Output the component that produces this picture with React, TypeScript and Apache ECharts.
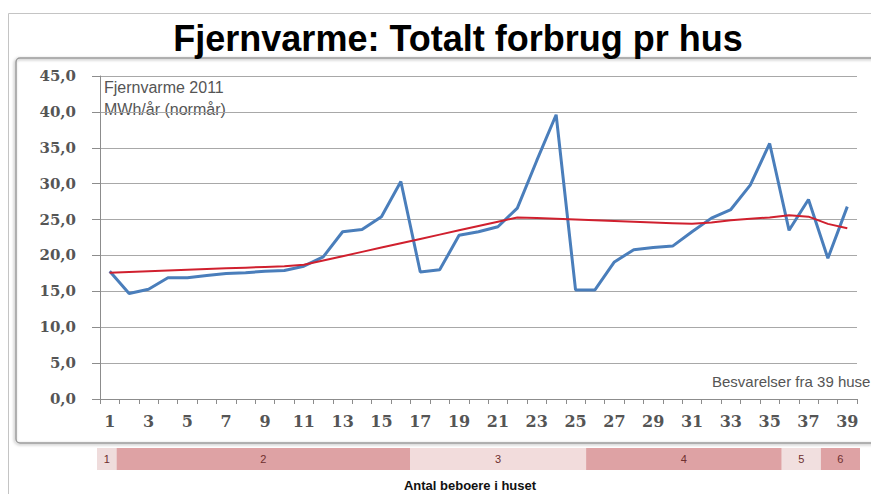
import React, { useEffect, useRef } from "react";
import * as echarts from "echarts";

const houses = ["1","2","3","4","5","6","7","8","9","10","11","12","13","14","15","16","17","18","19","20","21","22","23","24","25","26","27","28","29","30","31","32","33","34","35","36","37","38","39"];

const consumption = [17.8,14.7,15.3,16.9,16.9,17.2,17.5,17.6,17.8,17.9,18.5,19.8,23.3,23.6,25.4,30.3,17.7,18.0,22.8,23.3,24.0,26.6,33.2,39.6,15.2,15.2,19.1,20.8,21.1,21.3,23.3,25.2,26.4,29.8,35.6,23.5,27.8,19.6,26.8];

const trend = [17.6,17.7,17.8,17.9,18.0,18.1,18.2,18.3,18.4,18.5,18.7,19.3,19.9,20.5,21.1,21.7,22.3,22.9,23.5,24.1,24.7,25.3,25.2,25.1,25.0,24.9,24.8,24.7,24.6,24.5,24.4,24.6,24.9,25.1,25.3,25.6,25.4,24.4,23.8];

const groupLabels = ["1","2","3","4","5","6"];
const groupSizes = [1,15,9,10,2,2];
const groupColors = ["#efdcdc","#dea2a4","#f2dcdc","#dea2a4","#f1dfdf","#dea2a4"];

const titleText = "Fjernvarme: Totalt forbrug pr hus";
const noteLines = ["Fjernvarme 2011", "MWh/år (normår)"];
const sourceText = "Besvarelser fra 39 huse";
const groupAxisTitle = "Antal beboere i huset";

export default function App() {
  const ref = useRef<HTMLDivElement>(null);
  useEffect(() => {
    if (!ref.current) return;
    const chart = echarts.init(ref.current, null, { renderer: "svg" });
    const axisGray = "#8c8c8c";
    const labelFont = { fontFamily: "DejaVu Serif", fontSize: 15, fontWeight: "bold" as const, color: "#555" };
    chart.setOption({
      animation: false,
      backgroundColor: "#fff",
      grid: [
        { left: 100, right: 14, top: 76, bottom: 95 },
        { left: 97, right: 11, top: 448, height: 22 },
      ],
      xAxis: [
        {
          type: "category",
          gridIndex: 0,
          data: houses,
          boundaryGap: true,
          axisLine: { lineStyle: { color: axisGray } },
          axisTick: { show: true, interval: 0, length: 5, lineStyle: { color: axisGray } },
          axisLabel: { interval: 1, margin: 14, ...labelFont, fontSize: 16 },
        },
        { type: "value", gridIndex: 1, min: 0, max: 39, show: false },
      ],
      yAxis: [
        {
          type: "value",
          gridIndex: 0,
          min: 0,
          max: 45,
          interval: 5,
          axisLine: { show: true, lineStyle: { color: axisGray } },
          axisTick: { show: true, length: 8, lineStyle: { color: axisGray } },
          splitLine: { lineStyle: { color: "#a8a8a8" } },
          axisLabel: { margin: 24, formatter: (v: number) => v.toFixed(1).replace(".", ","), ...labelFont },
        },
        { type: "category", gridIndex: 1, data: ["g"], show: false },
      ],
      series: [
        {
          type: "line",
          name: "Forbrug",
          data: consumption,
          showSymbol: false,
          symbol: "none",
          lineStyle: { color: "#4a7ebb", width: 3 },
          z: 3,
        },
        {
          type: "line",
          name: "Trend",
          data: trend,
          showSymbol: false,
          symbol: "none",
          lineStyle: { color: "#d0202e", width: 2 },
          z: 4,
        },
        ...groupSizes.map((n, i) => ({
          type: "bar",
          xAxisIndex: 1,
          yAxisIndex: 1,
          stack: "groups",
          data: [n],
          barWidth: "100%",
          itemStyle: { color: groupColors[i] },
          label: { show: true, position: "inside", formatter: groupLabels[i], color: "#6e2f2f", fontSize: 11, fontFamily: "Liberation Sans" },
        })),
      ],
      graphic: [
        {
          type: "rect",
          shape: { x: 8.5, y: 13.5, width: 900, height: 520 },
          style: { fill: "none", stroke: "#c4c4c4", lineWidth: 1 },
          silent: true,
        },
        {
          type: "rect",
          shape: { x: 16, y: 58, width: 900, height: 385, r: 4 },
          style: { fill: "none", stroke: "#9a9a9a", lineWidth: 1.5, shadowBlur: 3, shadowColor: "rgba(0,0,0,0.35)", shadowOffsetX: -1, shadowOffsetY: 1 },
          silent: true,
        },
        {
          type: "text",
          x: 458,
          y: 38,
          style: { text: titleText, fontFamily: "Liberation Sans", fontWeight: "bold", fontSize: 36, fill: "#000", textAlign: "center", textVerticalAlign: "middle" },
        },
        {
          type: "text",
          x: 104,
          y: 79,
          style: { text: noteLines[0], fontFamily: "Liberation Sans", fontSize: 16, fill: "#555", textAlign: "left", textVerticalAlign: "top" },
        },
        {
          type: "text",
          x: 104,
          y: 101,
          style: { text: noteLines[1], fontFamily: "Liberation Sans", fontSize: 16, fill: "#555", textAlign: "left", textVerticalAlign: "top" },
        },
        {
          type: "text",
          x: 712,
          y: 381,
          style: { text: sourceText, fontFamily: "Liberation Sans", fontSize: 15, fill: "#555", textAlign: "left", textVerticalAlign: "middle" },
        },
        {
          type: "text",
          x: 470,
          y: 485,
          style: { text: groupAxisTitle, fontFamily: "Liberation Sans", fontWeight: "bold", fontSize: 13, fill: "#111", textAlign: "center", textVerticalAlign: "middle" },
        },
      ],
    });
    return () => chart.dispose();
  }, []);
  return <div ref={ref} style={{ position: "absolute", left: 0, top: 0, width: 871, height: 494 }} />;
}
